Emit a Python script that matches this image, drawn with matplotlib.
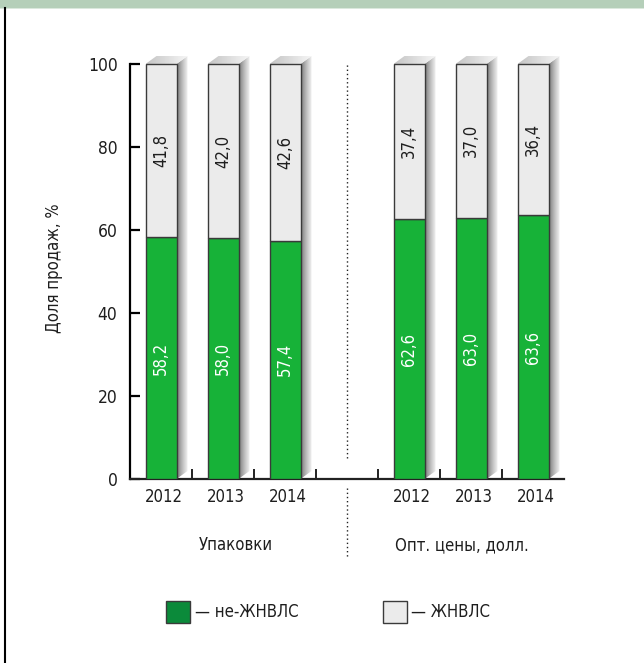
import numpy as np
import matplotlib
matplotlib.use("Agg")
import matplotlib.pyplot as plt
from matplotlib.patches import Polygon, Rectangle
from matplotlib.lines import Line2D
from matplotlib.colors import LinearSegmentedColormap

plt.rcParams['font.family'] = ['DejaVu Sans']
plt.rcParams['font.stretch'] = 'condensed'

# Data
years = ["2012", "2013", "2014"]
groups = ["Упаковки", "Опт. цены, долл."]
non_essential = [58.2, 58.0, 57.4, 62.6, 63.0, 63.6]   # не-ЖНВЛС
essential = [41.8, 42.0, 42.6, 37.4, 37.0, 36.4]       # ЖНВЛС
series_names = ["не-ЖНВЛС", "ЖНВЛС"]
y_ticks = [0, 20, 40, 60, 80, 100]
y_label = "Доля продаж, %"

# Slots: three bars, one empty gap, three bars
positions = [0, 1, 2, 4, 5, 6]
gap_pos = 3

GREEN = "#17b238"
GREEN_LEG = "#0b8a3a"
GREY = "#ebebeb"
EDGE = "#3a3a3a"
TXT = "#1e1e1e"

W, H = 644, 663
fig = plt.figure(figsize=(W / 100, H / 100), dpi=100)

# Axes geometry in pixels
ax_left, ax_right = 130, 564
y0_px = 479
px_per_unit = 4.15
ytop = 104
ax_top_px = y0_px - ytop * px_per_unit
ax = fig.add_axes([ax_left / W, 1 - y0_px / H, (ax_right - ax_left) / W,
                   (y0_px - ax_top_px) / H])
ax.set_xlim(-0.5, 6.5)
ax.set_ylim(0, ytop)

bw = 0.5
dx = 11 / 62
dy = 8 / px_per_unit

# Extruded shading behind each bar
side_grad = np.linspace(0, 1, 64)[None, :]
side_cmap = LinearSegmentedColormap.from_list("side", ["#7d7d7d", "#bdbdbd", "#f4f4f4"])
top_cmap = LinearSegmentedColormap.from_list("top", ["#c4c4c4", "#f6f6f6"])
for p in positions:
    xl, xr = p - bw / 2, p + bw / 2
    side = Polygon([(xr, 0), (xr + dx, dy), (xr + dx, 100 + dy), (xr, 100)],
                   closed=True, facecolor="none", edgecolor="none")
    ax.add_patch(side)
    im = ax.imshow(side_grad, cmap=side_cmap, aspect="auto",
                   extent=[xr, xr + dx, 0, 100 + dy], zorder=1,
                   interpolation="bilinear")
    im.set_clip_path(side)
    top = Polygon([(xl, 100), (xl + dx, 100 + dy), (xr + dx, 100 + dy), (xr, 100)],
                  closed=True, facecolor="none", edgecolor="none")
    ax.add_patch(top)
    im2 = ax.imshow(np.linspace(0, 1, 64)[None, :], cmap=top_cmap, aspect="auto",
                    extent=[xl, xr + dx, 100, 100 + dy], zorder=1,
                    interpolation="bilinear")
    im2.set_clip_path(top)

# Stacked bars
ax.bar(positions, non_essential, width=bw, color=GREEN, edgecolor=EDGE,
       linewidth=1, zorder=3)
ax.bar(positions, essential, width=bw, bottom=non_essential, color=GREY,
       edgecolor=EDGE, linewidth=1, zorder=3)

# Value labels inside segments
for p, a, b in zip(positions, non_essential, essential):
    ax.text(p, a / 2, f"{a:.1f}".replace(".", ","), rotation=90,
            ha="center", va="center", color="white", fontsize=12, zorder=4)
    ax.text(p, a + b / 2, f"{b:.1f}".replace(".", ","), rotation=90,
            ha="center", va="center", color=TXT, fontsize=12, zorder=4)

# Axes styling
for s in ["top", "right"]:
    ax.spines[s].set_visible(False)
ax.spines["left"].set_bounds(0, 100)
ax.spines["left"].set_linewidth(1.6)
ax.spines["bottom"].set_linewidth(1.6)
ax.spines["left"].set_color("black")
ax.spines["bottom"].set_color("#222222")
ax.set_yticks(y_ticks)
ax.set_yticklabels([str(v) for v in y_ticks])
ax.tick_params(axis="y", direction="in", length=7.2, width=1.6, labelsize=12.5,
               pad=9, colors="black", labelcolor=TXT)
ax.set_xticks(np.arange(0.5, 6.5, 1.0))
ax.tick_params(axis="x", direction="in", length=7, width=1.4, labelbottom=False,
               colors="#222222")
ax.set_facecolor("none")

# Year labels and group labels
for p, yr in zip(positions, years * 2):
    ax.text(p + 0.05, -4.3, yr, ha="center", va="center", fontsize=12,
            color=TXT, clip_on=False)
ax.text(1.2, -16, groups[0], ha="center", va="center", fontsize=12, color=TXT,
        clip_on=False)
ax.text(4.85, -16, groups[1], ha="center", va="center", fontsize=12, color=TXT,
        clip_on=False)

# Dotted group separator
ax.plot([gap_pos, gap_pos], [5.0, 100], color="#222222", linewidth=1,
        linestyle=(0, (1, 2)), clip_on=False, zorder=2)
ax.plot([gap_pos, gap_pos], [-2.2, -19], color="#222222", linewidth=1,
        linestyle=(0, (1, 2)), clip_on=False, zorder=2)

# Y axis title
fig.text(54 / W, 1 - 268 / H, y_label, rotation=90, ha="center", va="center",
         fontsize=12, color=TXT)

# Legend
def fig_rect(x0, y0, x1, y1, **kw):
    fig.patches.append(Rectangle((x0 / W, 1 - y1 / H), (x1 - x0) / W, (y1 - y0) / H,
                                 transform=fig.transFigure, **kw))

fig_rect(166, 601, 190, 623, facecolor=GREEN_LEG, edgecolor=EDGE, linewidth=1)
fig.text(195 / W, 1 - 612 / H, "— " + series_names[0], ha="left", va="center",
         fontsize=12, color=TXT)
fig_rect(383, 601, 407, 623, facecolor=GREY, edgecolor=EDGE, linewidth=1)
fig.text(411 / W, 1 - 612 / H, "— " + series_names[1], ha="left", va="center",
         fontsize=12, color=TXT)

# Frame: header band and left rule
fig_rect(0, 0, W, 7.5, facecolor="#b5cfb9", edgecolor="none")
fig_rect(0, 7.5, W, 8.5, facecolor="#dbe8dd", edgecolor="none")
fig.add_artist(Line2D([4.5 / W, 4.5 / W], [0, 1 - 7.5 / H], color="black",
                      linewidth=1.5, transform=fig.transFigure))

fig.savefig("out.png", dpi=100)
